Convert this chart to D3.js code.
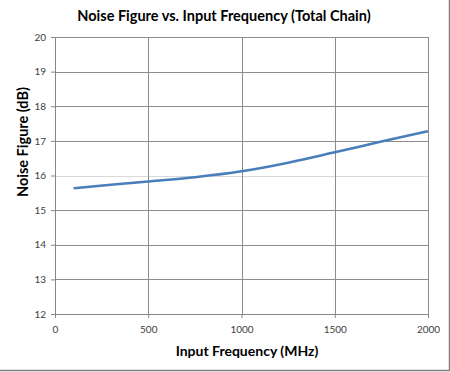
<!DOCTYPE html>
<html>
<head>
<meta charset="utf-8">
<script src="https://cdn.jsdelivr.net/npm/d3@7"></script>
<style>
  body { margin: 0; background: #fff; }
  svg text { font-family: Lato, "Open Sans", sans-serif; }
</style>
</head>
<body>
<div id="chart"></div>
<script>
// Values
const freqMHz = [100, 300, 500, 750, 1000, 1250, 1500, 1750, 2000];
const noiseFigure = [15.63, 15.73, 15.83, 15.95, 16.12, 16.37, 16.67, 16.98, 17.28];
const xTicks = [0, 500, 1000, 1500, 2000];
const yTicks = [12, 13, 14, 15, 16, 17, 18, 19, 20];

const W = 450, H = 372;
const margin = { top: 37, right: 22, bottom: 58, left: 55 };
const width = 428 - margin.left;
const height = 314 - margin.top;

const svg = d3.select("#chart")
    .append("svg")
    .attr("width", W)
    .attr("height", H);

// outer frame (only right and bottom edges show in the crop)
svg.append("path")
    .attr("d", `M449.5,0 V370.5 H0`)
    .attr("fill", "none")
    .attr("stroke", "#7f7f7f")
    .attr("stroke-width", 1.5);

const g = svg.append("g")
    .attr("transform", `translate(${margin.left},${margin.top})`);

const x = d3.scaleLinear().domain([0, 2000]).range([0, width]);
const y = d3.scaleLinear().domain([12, 20]).range([height, 0]);

// horizontal grid
g.append("g")
    .selectAll("line")
    .data(yTicks.slice(1))
    .enter()
    .append("line")
    .attr("x1", 0)
    .attr("x2", width)
    .attr("y1", d => Math.round(y(d)) + 0.5)
    .attr("y2", d => Math.round(y(d)) + 0.5)
    .attr("stroke", d => d === 16 ? "#d9d9d9" : "#8c8c8c");

// vertical grid
g.append("g")
    .selectAll("line")
    .data(xTicks.slice(1))
    .enter()
    .append("line")
    .attr("x1", d => Math.round(x(d)) + 0.5)
    .attr("x2", d => Math.round(x(d)) + 0.5)
    .attr("y1", 0)
    .attr("y2", height)
    .attr("stroke", "#8c8c8c");

// axes
const xAxis = g.append("g")
    .attr("transform", `translate(0,${height})`)
    .call(d3.axisBottom(x).tickValues(xTicks).tickFormat(d3.format("d"))
        .tickSize(4).tickPadding(8));

const yAxis = g.append("g")
    .call(d3.axisLeft(y).tickValues(yTicks).tickSize(4).tickPadding(5));

[xAxis, yAxis].forEach(a => {
    a.selectAll("path, line").attr("stroke", "#868686");
    a.selectAll("text")
        .attr("fill", "#404040")
        .style("font-size", "10px");
});

// the curve
const line = d3.line()
    .x((d, i) => x(freqMHz[i]))
    .y(d => y(d))
    .curve(d3.curveMonotoneX);

g.append("path")
    .datum(noiseFigure)
    .attr("fill", "none")
    .attr("stroke", "#4a7ebb")
    .attr("stroke-width", 2.5)
    .attr("d", line);

// title
svg.append("text")
    .attr("x", 224)
    .attr("y", 21)
    .attr("text-anchor", "middle")
    .style("font-size", "14.5px")
    .style("font-weight", "bold")
    .text("Noise Figure vs. Input Frequency (Total Chain)");

// axis labels
svg.append("text")
    .attr("x", 247)
    .attr("y", 356)
    .attr("text-anchor", "middle")
    .style("font-size", "14px")
    .style("font-weight", "bold")
    .text("Input Frequency (MHz)");

svg.append("text")
    .attr("transform", "rotate(-90)")
    .attr("x", -142)
    .attr("y", 28)
    .attr("text-anchor", "middle")
    .style("font-size", "14.5px")
    .style("font-weight", "bold")
    .text("Noise Figure (dB)");
</script>
</body>
</html>
